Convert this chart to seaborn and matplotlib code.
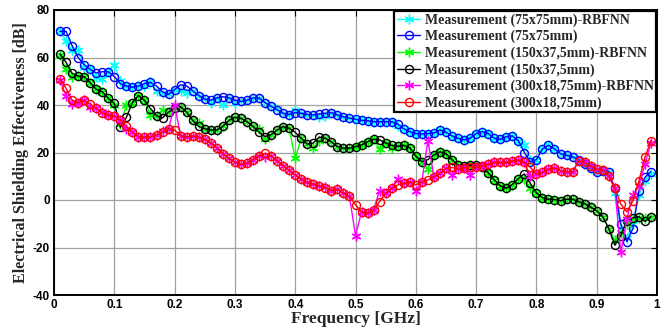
import numpy as np
import pandas as pd
import matplotlib
matplotlib.use("Agg")
import matplotlib.pyplot as plt
import seaborn as sns

# ---------------- data ----------------
freq_ghz = np.round(np.arange(1, 100) * 0.01, 2)

meas_75 = [71, 71, 65, 60, 57, 55, 53.5, 54, 54, 52,
           49, 48, 47.5, 48, 49, 49.5, 48, 45.5, 44.5, 46.5,
           48.5, 48, 46, 44, 42.5, 42, 43, 43.5, 43, 42,
           41.5, 42, 43, 43, 41, 39.5, 38, 36.5, 36, 36.8,
           36.5, 36, 35.8, 36.2, 36.5, 36.8, 35.8, 35, 34.5, 34,
           33.5, 33.4, 33, 33, 33, 33, 32, 30, 28.8, 28,
           27.8, 28, 28.2, 29.5, 28.5, 27, 26, 25.3, 26, 28,
           28.8, 28, 26, 25.5, 26.7, 27, 25, 20, 16, 17,
           21.5, 23, 21.5, 19.5, 18.8, 18.2, 16.8, 15, 13.5, 12,
           12.2, 12, 5, -10, -17.5, -12, 4, 9.5, 12]

rbf_75 = [71, 67, 63, 63, 56, 55, 52, 51, 54, 57,
          50, 48, 47.5, 48, 48, 49.5, 46, 45, 44.5, 46.5,
          46, 45, 46, 44, 42.5, 41, 43, 40, 43, 41,
          41.5, 42, 43, 43, 41, 39.5, 38.5, 36.5, 36, 38,
          36.5, 36, 35.8, 35, 35.5, 36.8, 35.8, 35, 34.5, 34,
          33.5, 33.4, 33, 33, 33, 33, 31, 30, 28.8, 28,
          27.8, 28, 28.2, 29.5, 28.5, 27, 26, 25.3, 26, 28,
          28.8, 28, 26, 25.5, 26.7, 27, 25, 23, 17, 17,
          21.5, 23, 21.5, 19.5, 18.8, 18.2, 16.8, 15, 13.5, 12,
          12.2, 12, 3, -12, -16, -10, 2, 8, 11]

meas_150 = [61.5, 58, 53.3, 52.2, 51.9, 49.4, 46.6, 45.6, 42.8, 40.7,
            30.6, 34.8, 41, 44, 42, 38.5, 35.5, 34.5, 37, 38.6,
            39.3, 37, 33.5, 31, 30, 29.5, 29.5, 31, 33.5, 34.8,
            34.4, 33, 31, 28.5, 26.7, 27.5, 29.5, 30.9, 30.2, 28.5,
            26, 23.5, 24, 26.5, 26, 24.5, 22.5, 21.8, 21.8, 22.5,
            23.2, 24.6, 25.6, 25.3, 24, 23, 22.6, 23, 22, 18.5,
            16.1, 17, 19, 20.3, 19.5, 17, 14.7, 14.3, 14.7, 14.7,
            14, 11.5, 8.5, 6, 5, 6.5, 9, 11, 7, 3,
            1, 0.3, 0.2, -0.3, 0.3, 0.3, -0.7, -1.5, -3, -4.5,
            -7, -12, -19, -15, -9, -7.5, -7, -9, -7]

rbf_150 = [61, 55, 52, 52.2, 51.9, 49.4, 46.6, 45.6, 42.8, 40,
           32, 40, 41, 44, 42, 36, 35.5, 38, 37, 38.6,
           39.3, 37, 33.5, 32.5, 30, 29.5, 29.5, 31, 33.5, 34.8,
           34.4, 33, 31, 30, 25.5, 27.5, 29.5, 30.9, 30.2, 17.5,
           26, 23.5, 22, 25, 26, 24.5, 22.5, 21.8, 21.8, 22.5,
           23.2, 24.6, 25.6, 21.5, 24, 22, 22.6, 23, 22, 18.5,
           16.1, 13, 19, 20.3, 19.5, 17, 14.7, 14.3, 14.7, 14.7,
           14, 11.5, 8.5, 6, 5, 6.5, 9, 9, 5, 3,
           1, 0.3, 0.2, -0.3, 0.3, 0.3, -0.7, -1.5, -3, -4.5,
           -7, -12, -17, -14, -10, -8, -7.5, -7.5, -7]

meas_300 = [51, 47, 42, 41, 42, 40.4, 38.6, 36.5, 36, 35.4,
            33.7, 31, 28.5, 26.7, 26.4, 26.7, 27.4, 28.5, 30, 29.5,
            27, 26.5, 27, 26.5, 25.5, 24, 22, 19.5, 17.5, 16,
            15, 15.5, 17, 18.6, 19.6, 18.5, 16.5, 14.5, 12.5, 10.5,
            8.8, 7.4, 6.7, 6, 5, 4, 4.5, 3, 1.5, -2,
            -5, -5.5, -4.2, -0.7, 2.8, 5, 6.3, 7, 7.7, 6.3,
            7.7, 8.4, 9.8, 11.2, 13.3, 13.7, 13, 13.5, 14, 13.7,
            14.4, 15.1, 15.8, 15.8, 15.8, 16.5, 16.8, 15.8, 13.7, 11,
            11.6, 13, 13.5, 12.3, 12, 11.6, 16.5, 15.8, 14.4, 13,
            12.5, 10.2, 5, -1.7, -5, -0.3, 8, 18, 25]

rbf_300 = [50.5, 44, 40.5, 41, 42, 39, 38.6, 37, 36, 35.4,
           33.7, 30, 28.5, 26.7, 26.4, 26.7, 27.4, 29, 30, 40,
           27, 26.5, 27, 26.5, 25.5, 24, 22, 19.5, 17.5, 16,
           15, 15.5, 17, 18.6, 18, 18.5, 16.5, 14.5, 12.5, 10.5,
           8.8, 7.4, 6.7, 6, 5.5, 4, 4.5, 3, 1.5, -15,
           -5, -5.5, -4.2, 4, 2.8, 5, 9, 7, 7.7, 4,
           7.7, 25, 9.8, 11.2, 13.3, 10.5, 13, 13.5, 10.5, 13.7,
           14.4, 15.1, 15.8, 15.8, 15.8, 16.5, 16.8, 15.8, 10, 11,
           11.6, 13, 13.5, 12.3, 12, 11.6, 16.5, 15.8, 14.4, 13,
           12.5, 10.2, 5, -22, -8, 2, 6, 15, 24]

series_labels = ["Measurement (75x75mm)-RBFNN", "Measurement (75x75mm)",
                 "Measurement (150x37,5mm)-RBFNN", "Measurement (150x37,5mm)",
                 "Measurement (300x18,75mm)-RBFNN", "Measurement (300x18,75mm)"]
series_values = [rbf_75, meas_75, rbf_150, meas_150, rbf_300, meas_300]
series_colors = ["#00ffff", "#0000ff", "#00ff00", "#000000", "#ff00ff", "#ff0000"]
series_markers = ["asterisk", "circle", "asterisk", "circle", "asterisk", "circle"]

x_ticks = [0, 0.1, 0.2, 0.3, 0.4, 0.5, 0.6, 0.7, 0.8, 0.9, 1]
x_tick_labels = ["0", "0.1", "0.2", "0.3", "0.4", "0.5", "0.6", "0.7", "0.8", "0.9", "1"]
y_ticks = [-40, -20, 0, 20, 40, 60, 80]

# ---------------- plot ----------------
sns.set_style("white")
plt.rcParams["axes.unicode_minus"] = False

fig = plt.figure(figsize=(6.66, 3.33), dpi=100)
ax = fig.add_axes([54 / 666, 1 - 295 / 333, (657 - 54) / 666, (295 - 10) / 333])

frames = []
for lab, vals in zip(series_labels, series_values):
    frames.append(pd.DataFrame({"f": freq_ghz, "v": vals, "s": lab}))
df = pd.concat(frames, ignore_index=True)

asterisk = (6, 2, 0)
for lab, col, mk in zip(series_labels, series_colors, series_markers):
    sub = df[df["s"] == lab]
    if mk == "circle":
        kw = dict(marker="o", markersize=5.8, markerfacecolor="none",
                  markeredgecolor=col, markeredgewidth=1.0)
    else:
        kw = dict(marker=asterisk, markersize=7, markeredgecolor=col,
                  markeredgewidth=1.0)
    sns.lineplot(data=sub, x="f", y="v", ax=ax, color=col, linewidth=1.0,
                 label=lab, estimator=None, sort=False, **kw)

ax.set_xlim(0, 1)
ax.set_ylim(-40, 80)
ax.set_xticks(x_ticks)
ax.set_xticklabels(x_tick_labels)
ax.set_yticks(y_ticks)
ax.grid(True, color="#a0a0a0", linewidth=0.9)
ax.set_axisbelow(True)

for sp in ax.spines.values():
    sp.set_visible(True)
    sp.set_color("black")
    sp.set_linewidth(1.4)

ax.tick_params(direction="in", length=4, width=0.8, top=True, right=True,
               labelsize=8.5, pad=3, colors="black")
for t in ax.get_xticklabels() + ax.get_yticklabels():
    t.set_fontfamily("Liberation Sans")
    t.set_fontweight("bold")

ax.set_xlabel("Frequency [GHz]", fontfamily="Liberation Serif",
              fontweight="bold", fontsize=12.5, labelpad=0)
ax.set_ylabel("Electrical Shielding Effectiveness [dB]",
              fontfamily="Liberation Serif", fontweight="bold",
              fontsize=11.5, labelpad=3)

leg = ax.legend(loc="upper right", bbox_to_anchor=(1.0, 1.0),
                prop={"family": "Liberation Serif", "weight": "bold", "size": 10},
                frameon=True, fancybox=False, edgecolor="black",
                framealpha=1, borderpad=0.2, labelspacing=0.22,
                handlelength=1.7, handletextpad=0.3, borderaxespad=0.05)
leg.get_frame().set_linewidth(1.6)

fig.savefig("out.png", dpi=100)
